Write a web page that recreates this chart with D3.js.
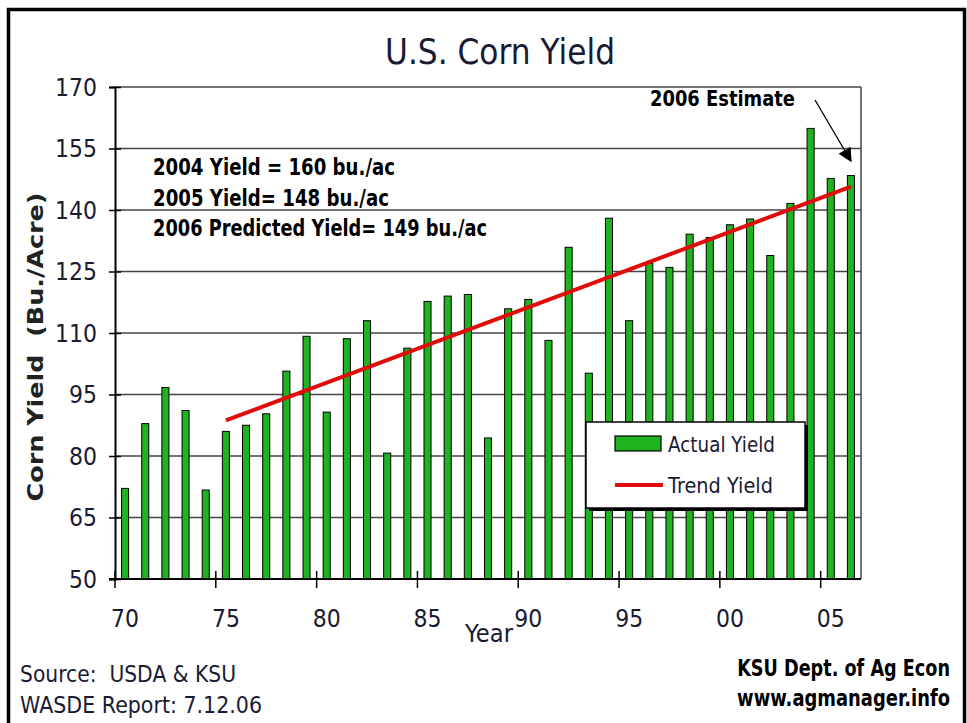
<!DOCTYPE html>
<html>
<head>
<meta charset="utf-8">
<script src="https://cdn.jsdelivr.net/npm/d3@7"></script>
<style>
  body { margin: 0; background: #fff; }
  text { font-family: "DejaVu Sans", Verdana, sans-serif; }
</style>
</head>
<body>
<script>
// chart values
const years = [1970, 1971, 1972, 1973, 1974, 1975, 1976, 1977, 1978, 1979,
               1980, 1981, 1982, 1983, 1984, 1985, 1986, 1987, 1988, 1989,
               1990, 1991, 1992, 1993, 1994, 1995, 1996, 1997, 1998, 1999,
               2000, 2001, 2002, 2003, 2004, 2005, 2006];
const actualYield = [72.1, 87.9, 96.7, 91.1, 71.7, 86.0, 87.5, 90.3, 100.7, 109.2,
                     90.7, 108.6, 113.0, 80.7, 106.3, 117.7, 119.0, 119.4, 84.4, 115.9,
                     118.2, 108.2, 130.9, 100.2, 138.0, 113.0, 127.0, 126.0, 134.1, 133.3,
                     136.4, 137.8, 128.9, 141.6, 159.9, 147.7, 148.4];
const trendYears = [1975, 2006];
const trendYield = [88.7, 145.7];
const yTicks = [50, 65, 80, 95, 110, 125, 140, 155, 170];
const xTickYears = [1970, 1975, 1980, 1985, 1990, 1995, 2000, 2005];
const xTickLabels = ["70", "75", "80", "85", "90", "95", "00", "05"];
const notes = ["2004 Yield = 160 bu./ac", "2005 Yield= 148 bu./ac", "2006 Predicted Yield= 149 bu./ac"];

const W = 967, H = 723;
const plot = {left: 115, right: 861, top: 87, bottom: 579};
const GREEN = "#1fb41f", RED = "#e00b0b", INK = "#1a1a33";

const svg = d3.select("body").append("svg")
    .attr("width", W)
    .attr("height", H);

// squeeze DejaVu into a Tahoma-ish width
function fit(sel, len) {
    return sel.attr("textLength", len).attr("lengthAdjust", "spacingAndGlyphs");
}
// same idea but with a real transform, anchored at the right end
function squeezeEnd(sel, xr, yb, len) {
    const w = sel.node().getComputedTextLength();
    sel.attr("text-anchor", "end")
       .attr("transform", `translate(${xr},${yb}) scale(${len / w},1)`);
    return sel;
}

// outer frame (runs off the bottom)
svg.append("rect")
    .attr("x", 8.5).attr("y", 9.5)
    .attr("width", 956).attr("height", 740)
    .attr("fill", "none").attr("stroke", "#000").attr("stroke-width", 3.5);

const x = d3.scaleBand().domain(years).range([plot.left, plot.right]);
const y = d3.scaleLinear().domain([50, 170]).range([plot.bottom, plot.top]);
const barW = x.bandwidth() * 0.35;
const cx = d => x(d) + x.bandwidth() / 2;

// title
fit(svg.append("text")
    .attr("x", 500).attr("y", 64)
    .attr("text-anchor", "middle")
    .attr("font-size", 36)
    .attr("fill", INK)
    .text("U.S. Corn Yield"), 230);

// gridlines + plot border
svg.append("g")
    .selectAll("line")
    .data(yTicks.slice(1))
    .join("line")
    .attr("x1", plot.left).attr("x2", plot.right)
    .attr("y1", d => y(d)).attr("y2", d => y(d))
    .attr("stroke", "#444").attr("stroke-width", 1.5);
svg.append("line")
    .attr("x1", plot.right).attr("x2", plot.right)
    .attr("y1", plot.top).attr("y2", plot.bottom)
    .attr("stroke", "#444").attr("stroke-width", 1.5);

// bars
svg.append("g")
    .selectAll("rect")
    .data(years)
    .join("rect")
    .attr("x", (d) => cx(d) - barW / 2)
    .attr("width", barW)
    .attr("y", (d, i) => y(actualYield[i]))
    .attr("height", (d, i) => y(50) - y(actualYield[i]))
    .attr("fill", GREEN)
    .attr("stroke", "#000").attr("stroke-width", 1);

// trend line
const line = d3.line().x(d => cx(d[0])).y(d => y(d[1]));
svg.append("path")
    .attr("d", line(trendYears.map((yr, i) => [yr, trendYield[i]])))
    .attr("fill", "none")
    .attr("stroke", RED).attr("stroke-width", 4);

// y axis
const yAxis = svg.append("g")
    .attr("transform", `translate(${plot.left},0)`)
    .call(d3.axisLeft(y).tickValues(yTicks).tickSize(6).tickPadding(12));
yAxis.select(".domain").attr("stroke", "#000").attr("stroke-width", 2);
yAxis.selectAll(".tick line").attr("x1", 6).attr("x2", -6).attr("stroke-width", 1.5);
yAxis.selectAll(".tick text")
    .attr("font-size", 25)
    .attr("font-family", "'DejaVu Sans', Verdana, sans-serif")
    .attr("fill", INK)
    .each(function(d) { fit(d3.select(this), String(d).length * 14); });

// x axis
const xAxis = svg.append("g");
xAxis.append("line")
    .attr("x1", plot.left - 6).attr("x2", plot.right)
    .attr("y1", plot.bottom).attr("y2", plot.bottom)
    .attr("stroke", "#000").attr("stroke-width", 2);
xAxis.selectAll(".xt")
    .data(xTickYears)
    .join("line")
    .attr("class", "xt")
    .attr("x1", d => x(d)).attr("x2", d => x(d))
    .attr("y1", plot.bottom - 8).attr("y2", plot.bottom + 9)
    .attr("stroke", "#000").attr("stroke-width", 1.5);
xAxis.selectAll(".xl")
    .data(xTickYears)
    .join("text")
    .attr("class", "xl")
    .attr("x", d => cx(d)).attr("y", 627)
    .attr("text-anchor", "middle")
    .attr("font-size", 25)
    .attr("fill", INK)
    .text((d, i) => xTickLabels[i])
    .each(function() { fit(d3.select(this), 28); });

fit(svg.append("text")
    .attr("x", 489).attr("y", 642)
    .attr("text-anchor", "middle")
    .attr("font-size", 25)
    .attr("fill", INK)
    .text("Year"), 48);

// y axis title
fit(svg.append("text")
    .attr("transform", "translate(43,347) rotate(-90)")
    .attr("text-anchor", "middle")
    .attr("font-size", 21)
    .attr("font-weight", "bold")
    .attr("fill", "#222")
    .attr("xml:space", "preserve")
    .style("white-space", "pre")
    .text("Corn Yield  (Bu./Acre)"), 309);

// yield notes
const noteW = [242, 236, 334];
svg.append("g")
    .selectAll("text")
    .data(notes)
    .join("text")
    .attr("x", 153)
    .attr("y", (d, i) => 175 + i * 30.5)
    .attr("font-size", 23)
    .attr("font-weight", "bold")
    .attr("fill", "#000")
    .text(d => d)
    .each(function(d, i) { fit(d3.select(this), noteW[i]); });

// 2006 estimate callout
fit(svg.append("text")
    .attr("x", 650).attr("y", 106)
    .attr("font-size", 22)
    .attr("font-weight", "bold")
    .attr("fill", "#000")
    .text("2006 Estimate"), 145);
svg.append("defs").append("marker")
    .attr("id", "head")
    .attr("viewBox", "0 0 10 10")
    .attr("refX", 9).attr("refY", 5)
    .attr("markerWidth", 14).attr("markerHeight", 14)
    .attr("markerUnits", "userSpaceOnUse")
    .attr("orient", "auto")
    .append("path")
    .attr("d", "M0,0 L10,5 L0,10 Z")
    .attr("fill", "#000");
svg.append("line")
    .attr("x1", 815).attr("y1", 100)
    .attr("x2", cx(2006)).attr("y2", 161)
    .attr("stroke", "#000").attr("stroke-width", 1.3)
    .attr("marker-end", "url(#head)");

// legend
const lg = svg.append("g").attr("transform", "translate(586,422)");
lg.append("rect").attr("x", 3).attr("y", 3).attr("width", 219).attr("height", 86).attr("fill", "#000");
lg.append("rect").attr("width", 219).attr("height", 86)
    .attr("fill", "#fff").attr("stroke", "#000").attr("stroke-width", 1.5);
lg.append("rect").attr("x", 29).attr("y", 14).attr("width", 46).attr("height", 15)
    .attr("fill", GREEN).attr("stroke", "#000").attr("stroke-width", 1.2);
lg.append("line").attr("x1", 29).attr("x2", 77).attr("y1", 63).attr("y2", 63)
    .attr("stroke", RED).attr("stroke-width", 4);
fit(lg.append("text").attr("x", 82).attr("y", 30).attr("font-size", 22).attr("fill", INK)
    .text("Actual Yield"), 107);
fit(lg.append("text").attr("x", 82).attr("y", 71).attr("font-size", 22).attr("fill", INK)
    .text("Trend Yield"), 105);

// footer
fit(svg.append("text").attr("x", 20).attr("y", 682).attr("font-size", 23).attr("fill", INK)
    .attr("xml:space", "preserve").style("white-space", "pre")
    .text("Source:  USDA & KSU"), 216);
fit(svg.append("text").attr("x", 20).attr("y", 713).attr("font-size", 23).attr("fill", INK)
    .text("WASDE Report: 7.12.06"), 242);
squeezeEnd(svg.append("text").attr("font-size", 23)
    .attr("font-weight", "bold").attr("fill", "#000")
    .text("KSU Dept. of Ag Econ"), 950, 676, 213);
squeezeEnd(svg.append("text").attr("font-size", 23)
    .attr("font-weight", "bold").attr("fill", "#000")
    .text("www.agmanager.info"), 950, 706, 213);
</script>
</body>
</html>
